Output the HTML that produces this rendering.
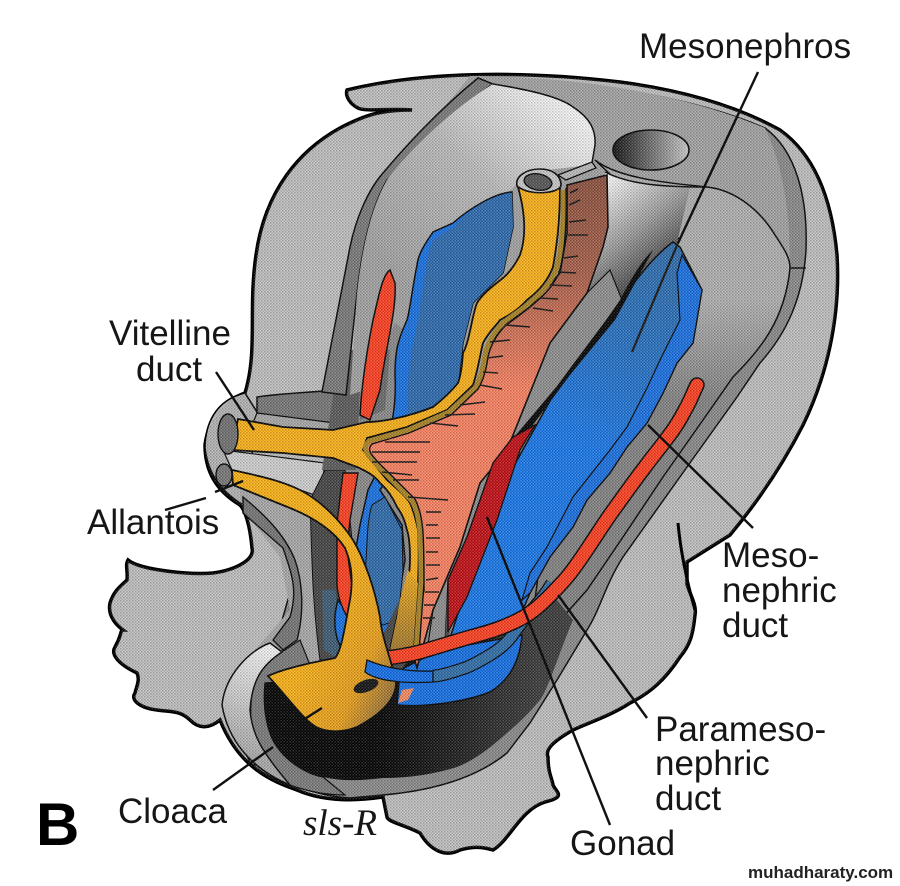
<!DOCTYPE html>
<html><head><meta charset="utf-8"><style>
html,body{margin:0;padding:0;background:#fff;width:900px;height:886px;overflow:hidden}
svg{display:block}
text{font-family:"Liberation Sans",sans-serif;fill:#161616}
</style></head><body>
<svg width="900" height="886" viewBox="0 0 900 886" xmlns="http://www.w3.org/2000/svg">
<defs>
<pattern id="ht" width="3" height="3" patternUnits="userSpaceOnUse">
<rect width="1.5" height="1.5" fill="#000" fill-opacity=".2"/><rect x="1.5" y="1.5" width="1.5" height="1.5" fill="#000" fill-opacity=".12"/><rect x="1.5" width="1.5" height="1.5" fill="#fff" fill-opacity=".2"/><rect y="1.5" width="1.5" height="1.5" fill="#fff" fill-opacity=".12"/>
</pattern>
<linearGradient id="gut" x1="0" y1="175" x2="0" y2="390" gradientUnits="userSpaceOnUse"><stop offset="0" stop-color="#8a4f3c"/><stop offset=".45" stop-color="#a85e48"/><stop offset="1" stop-color="#fb8160"/></linearGradient>
<linearGradient id="hole" x1="0" x2="1" y1="0" y2="0"><stop offset="0" stop-color="#111"/><stop offset=".45" stop-color="#666"/><stop offset="1" stop-color="#cdcdcd"/></linearGradient>
<linearGradient id="fun" x1="610" y1="180" x2="680" y2="270" gradientUnits="userSpaceOnUse"><stop offset="0" stop-color="#f6f6f6"/><stop offset=".5" stop-color="#999"/><stop offset="1" stop-color="#2a2a2a"/></linearGradient>
<linearGradient id="dome" x1="585" y1="125" x2="420" y2="300" gradientUnits="userSpaceOnUse"><stop offset="0" stop-color="#f8f8f8"/><stop offset=".45" stop-color="#bcbcbc"/><stop offset="1" stop-color="#a2a2a2"/></linearGradient>
<linearGradient id="blk" x1="380" y1="0" x2="540" y2="0" gradientUnits="userSpaceOnUse"><stop offset="0" stop-color="#000"/><stop offset="1" stop-color="#3a3a3a"/></linearGradient>
<linearGradient id="ygut" x1="0" y1="560" x2="0" y2="670" gradientUnits="userSpaceOnUse"><stop offset="0" stop-color="#fbb016"/><stop offset="1" stop-color="#8f6c2e"/></linearGradient>
<linearGradient id="clo" x1="300" y1="660" x2="395" y2="705" gradientUnits="userSpaceOnUse"><stop offset="0" stop-color="#fcb213"/><stop offset=".6" stop-color="#ea9f18"/><stop offset="1" stop-color="#8c6a3a"/></linearGradient>
<linearGradient id="bulb" x1="225" y1="745" x2="270" y2="650" gradientUnits="userSpaceOnUse"><stop offset="0" stop-color="#aaa"/><stop offset="1" stop-color="#f4f4f4"/></linearGradient>
<linearGradient id="panel" x1="0" y1="300" x2="0" y2="400" gradientUnits="userSpaceOnUse"><stop offset="0" stop-color="#b0b0b0"/><stop offset="1" stop-color="#828282"/></linearGradient>
<linearGradient id="mblue" x1="670" y1="260" x2="570" y2="440" gradientUnits="userSpaceOnUse"><stop offset="0" stop-color="#2c6cad"/><stop offset=".5" stop-color="#2470c4"/><stop offset="1" stop-color="#1676ea"/></linearGradient>
<clipPath id="bodyclip"><path id="bp" d="M347,90C420,72 520,70 620,82C680,90 735,105 780,130C815,155 832,200 837,255C841,320 825,380 803,425C780,470 755,505 730,535L687,562L687,584C690,595 697,605 695,615C693,635 690,645 680,657C665,680 650,693 630,703C610,716 590,722 573,730C552,742 545,750 548,757C548,773 552,778 553,785C556,792 567,797 545,802C520,810 510,840 493,850C480,846 470,847 460,850C445,858 430,850 420,833C405,825 388,822 387,817L383,797C350,802 320,800 297,790C275,782 240,770 220,720C210,728 200,730 190,720C180,710 170,712 157,710C140,708 130,700 135,693C137,685 140,680 137,673C120,665 110,655 115,647C122,635 120,630 123,630C112,622 108,612 110,603C114,590 122,585 127,580C128,570 125,565 128,560C140,570 190,575 213,573C235,570 255,560 252,548C250,525 245,510 240,505C215,490 205,470 205,445C208,420 225,400 245,393C258,350 248,310 256,255C265,190 300,150 340,128C365,115 380,110 412,110C390,108 365,112 358,108C350,104 345,96 347,90Z"/></clipPath>
</defs>

<!-- body -->
<use href="#bp" fill="#bfbfbf" stroke="#000" stroke-width="3.5"/>

<!-- outer ring band -->
<path d="M765,128C795,150 808,195 806,250C803,300 785,335 760,363L737,397L687,467L623,557C605,585 600,610 587,630L557,680L530,723L507,753C480,775 440,790 383,795L350,798C320,797 280,782 250,763L225,700C232,680 250,655 275,645L345,400L400,200L480,78C600,80 700,100 765,128Z" fill="#8a8a8a" stroke="#000" stroke-width="1.5"/>

<!-- wall -->
<path d="M470,76C570,76 680,92 765,128C780,160 790,200 790,265L720,300L600,400L500,400L350,290L385,180Z" fill="#a3a3a3"/>

<!-- right panel -->
<path d="M595,160C620,180 680,184 707,187C735,190 760,210 775,235C785,250 790,258 790,268C785,320 760,350 733,377L710,410L663,477L623,537L587,590L563,617L530,640L560,400L680,240Z" fill="url(#panel)" stroke="#000" stroke-width="1.5"/>
<path d="M790,268L806,268" stroke="#000" stroke-width="1.5"/>

<!-- cuff and lower-left -->
<path d="M245,393C215,400 205,425 205,448C208,475 222,492 243,505L250,460L262,420Z" fill="#b4b4b4" stroke="#000" stroke-width="1.6"/>
<path d="M257,397C290,392 330,392 350,388L358,393L335,425L257,415Z" fill="#767676" stroke="#000" stroke-width="1.5"/>
<path d="M257,413L335,423L328,442L250,430Z" fill="#a8a8a8" stroke="#000" stroke-width="1.2"/>
<path d="M223,450L325,463L320,497L300,490L232,470Z" fill="#cfcfcf" stroke="#000" stroke-width="1.2"/>
<path d="M240,490L300,500L330,530L335,640L330,660L285,668L265,700L255,650L290,610L280,557L243,510Z" fill="#a9a9a9"/>
<path d="M243,497L243,513L283,548C292,575 298,590 290,617L273,640L283,650L297,640C305,610 302,580 295,560C285,535 265,515 243,497Z" fill="#747474" stroke="#000" stroke-width="1.4"/>
<path d="M310,500C312,560 312,600 320,660L338,660L355,570L345,470L325,470Z" fill="#434343" stroke="#000" stroke-width="1"/>
<path d="M322,590L335,590L343,648L335,657L324,650Z" fill="#3c5a72"/>
<path d="M340,350L362,350L356,470L322,470Z" fill="#5a5a5a"/>
<path d="M365,350L390,350L385,410L360,420Z" fill="#6a6a6a"/>

<!-- left wall band -->
<path d="M478,78L493,84C440,120 400,170 387,180C370,210 362,250 357,293L346,395L322,392L350,247C356,218 368,190 383,173C415,135 445,105 478,78Z" fill="#797979" stroke="#000" stroke-width="1.5"/>

<!-- dome -->
<path d="M493,84C530,90 560,97 573,107C590,118 596,130 595,145C594,155 592,160 590,165L530,172L500,200L460,260L405,300L365,390L350,395L357,293C362,250 370,210 387,180C405,155 450,110 493,84Z" fill="url(#dome)"/>
<path d="M493,84C530,90 560,97 573,107C590,118 596,130 595,145L592,163" fill="none" stroke="#000" stroke-width="1.5"/>
<ellipse cx="651" cy="150" rx="38" ry="20" fill="url(#hole)" stroke="#000" stroke-width="1.6"/>

<!-- funnel -->
<path d="M605,172C630,185 665,187 690,187L677,243L622,300L565,360L587,293L603,247L608,227Z" fill="url(#fun)"/>
<path d="M605,172C630,185 665,187 707,187" fill="none" stroke="#000" stroke-width="1.5"/>

<!-- gray band right of salmon -->
<path d="M587,293L550,343L507,450L480,483L460,547L433,610L425,665L445,645L448,580L467,537L493,463L515,437L557,387L622,300L610,270Z" fill="#8e8e8e" stroke="#000" stroke-width="1.2"/>
<path d="M448,580L445,645L425,668L450,650Z" fill="#444"/>

<!-- dark lower cavity -->
<path d="M265,683C262,710 265,735 277,747C290,765 310,775 323,777C345,782 365,780 383,778C410,778 435,774 457,767C475,760 490,748 507,733C520,722 530,712 540,700C548,690 560,650 573,620L557,600L520,620L430,650L350,660Z" fill="url(#blk)"/>

<!-- crescent and lower-left bands -->
<path d="M252,690C255,670 268,655 285,650L300,640L316,680L265,683C262,710 268,735 277,747C290,765 310,775 323,777L345,795C310,795 275,782 255,767C250,740 250,710 252,690Z" fill="#7a7a7a" stroke="#000" stroke-width="1.2"/>
<path d="M222,705C225,675 250,650 270,643L282,652C262,665 252,680 250,710C252,735 262,752 290,785C250,768 228,740 222,705Z" fill="url(#bulb)" stroke="#000" stroke-width="1.5"/>

<!-- big blue -->
<path d="M673,242C650,258 625,295 613,313C590,345 565,375 556,390L495,500L450,638C480,632 500,625 520,617L530,593L550,557L573,527L587,500L610,473L627,447L647,423L663,393L677,363L693,343L702,290L680,247Z" fill="url(#mblue)" stroke="#000" stroke-width="1.5"/>
<path d="M677,273L680,320L660,360L647,388L627,427L610,450L573,497L547,547L530,573L522,600L530,593L550,557L573,527L587,500L610,473L627,447L647,423L663,393L677,363L693,343L702,290L682,255Z" fill="#176fe4" stroke="#000" stroke-width="1.2"/>
<path d="M632,352L678,243" stroke="#111" stroke-width="2.2"/>

<!-- bottom bright blue -->
<path d="M397,705C430,708 470,700 490,692C510,680 520,660 522,635L440,650L400,670Z" fill="#126ee6" stroke="#000" stroke-width="1.5"/>

<!-- left blue -->
<path d="M512,192C495,193 470,208 453,223L433,232C424,245 418,255 417,265C412,290 410,310 407,320C398,340 395,350 395,375C396,395 395,420 385,445L378,470L368,490L360,525L345,610L338,600C332,620 335,640 343,650L375,662L395,620L405,560L402,525L380,490L425,425L458,385L463,343L473,303L503,273L513,227Z" fill="#1470e4" stroke="#000" stroke-width="1.5"/>
<path d="M512,193C495,194 470,208 455,226L433,240C425,260 423,290 418,320C412,345 408,370 407,400L407,425L440,410L458,385L463,343L473,303L503,273L513,227Z" fill="#2a69ae"/>
<path d="M372,505C366,525 368,545 365,570C362,600 370,620 383,625L398,620L403,570L402,530L385,497Z" fill="#2c6aab" stroke="#000" stroke-width="1"/>

<!-- left red -->
<path d="M390,270C382,275 378,300 373,320C368,345 362,380 360,415L370,420L380,390C385,350 397,310 395,283Z" fill="#ff3d1e" stroke="#000" stroke-width="1.5"/>
<path d="M343,473L358,473L350,520L347,550L354,600L350,622C344,612 338,600 337,585L337,523Z" fill="#ff3d1e" stroke="#000" stroke-width="1.4"/>

<!-- salmon -->
<path d="M567,185L607,175L608,227L603,247L587,293L550,343L507,450L480,483L460,547L433,610L417,668L412,650L424,590L422,530L407,497L377,473L360,453L367,438L407,427L447,410L478,387L488,347L503,325L530,307L560,273L567,233Z" fill="url(#gut)" stroke="#000" stroke-width="1.6"/>

<!-- black wedge and gonad -->
<path d="M653,250C640,262 628,285 620,300C600,330 575,360 557,387L515,437L496,470L492,478L500,482L527,433L570,375L615,320Z" fill="#000"/>
<path d="M535,425L520,450L497,520L467,597L448,632L448,580L467,537L493,463L513,437Z" fill="#c00d12" stroke="#000" stroke-width="1.3"/>

<!-- dark strip between cloaca and hindgut -->
<path d="M407,583L415,650L400,672L385,665L383,635Z" fill="#444"/>

<!-- yellow gut -->
<path d="M518,187C523,205 528,232 520,255C515,265 510,272 503,278C490,288 482,295 477,303C472,315 470,340 463,353C462,365 461,375 458,383C450,393 442,400 433,407C405,418 380,422 367,422L333,430L283,427L238,419L232,450L283,453L333,458L357,467C368,472 375,476 380,483C388,490 393,498 397,507C403,515 405,522 407,530C410,540 410,550 410,557C410,570 409,575 407,583L397,617L390,650L413,650L418,583C419,560 419,545 418,530C416,520 414,512 410,503C405,495 396,488 387,480L363,450L367,438L407,427L447,410L473,385C478,370 480,355 483,343C490,330 497,325 500,320C510,315 520,308 527,300C540,290 548,280 553,267C556,250 560,225 560,187Z" fill="#fbb016" stroke="#000" stroke-width="1.8"/>
<path d="M400,600L397,617L390,650L413,650L418,583L408,570Z" fill="url(#ygut)"/>
<path d="M563,190C564,225 562,250 556,270C548,288 535,298 528,304C515,315 505,320 502,324C492,335 487,345 485,355C483,370 480,378 476,387L449,412L408,430L369,441C362,449 364,453 389,477L412,501C420,515 421,530 421,583L416,650" fill="none" stroke="#a88322" stroke-width="5"/>
<path d="M566,188C567,225 565,252 559,273C551,291 537,301 530,307C518,317 507,324 504,327C495,337 490,347 488,357C486,372 483,381 478,389L451,415L409,433L372,444C367,450 368,453 391,475L415,499C423,515 424,530 424,583L419,652" fill="none" stroke="#000" stroke-width="1.4"/>

<!-- pipe top -->
<path d="M517,186C515,177 525,169 540,169C552,169 561,175 561,185C561,193 530,197 517,186Z" fill="#c8c8c8" stroke="#000" stroke-width="1.6"/>
<ellipse cx="538" cy="182" rx="14" ry="8" fill="#555" stroke="#000" stroke-width="1.4" transform="rotate(10 538 182)"/>
<path d="M558,175L592,162L596,168L566,180Z" fill="#bbb" stroke="#000" stroke-width="1.3"/>

<!-- rugae -->
<g fill="none" stroke="#111" stroke-width="1.6">
<path d="M570,193l8,-4M569,205l11,-5M569,222l17,-2M568,235l20,0M564,258l14,-2M558,272l18,1M550,285l22,1M540,298l18,1M533,308l20,3M505,325l25,2M490,342l20,-2M487,358l16,-2M483,372l15,1M480,385l22,4"/>
<path d="M460,405l25,-3M445,415l30,-1M430,423l28,3M385,442l45,0M372,452l48,0M372,462l45,0M382,472l30,3M393,480l26,0M408,497l40,3M426,512l15,0M426,525l12,0M426,538l14,0M426,552l12,0M426,565l14,0M426,580l12,-2M425,592l14,0M424,605l12,0M423,618l12,0"/>
</g>

<!-- teal duct under red -->
<path d="M552,583C545,595 538,603 530,612C522,622 517,628 512,636C505,645 498,650 490,655C480,661 473,665 465,668C450,673 440,676 433,676" fill="none" stroke="#000" stroke-width="13"/>
<path d="M552,583C545,595 538,603 530,612C522,622 517,628 512,636C505,645 498,650 490,655C480,661 473,665 465,668C450,673 440,676 433,676" fill="none" stroke="#2e6da8" stroke-width="10.5"/>

<!-- red duct, right -->
<path d="M697,385C692,395 690,402 685,410C680,420 675,428 668,437C660,448 653,456 645,467C635,480 625,494 615,508C606,520 598,533 590,545C580,560 570,575 560,585C550,596 540,606 530,613C520,620 510,624 500,628C487,633 473,636 460,640C447,644 433,648 420,652C408,655 396,657 385,658" fill="none" stroke="#000" stroke-width="15.5" stroke-linecap="round"/>
<path d="M697,385C692,395 690,402 685,410C680,420 675,428 668,437C660,448 653,456 645,467C635,480 625,494 615,508C606,520 598,533 590,545C580,560 570,575 560,585C550,596 540,606 530,613C520,620 510,624 500,628C487,633 473,636 460,640C447,644 433,648 420,652C408,655 396,657 385,658" fill="none" stroke="#ff3d1e" stroke-width="12.5" stroke-linecap="round"/>

<!-- allantois & cloaca -->
<path d="M232,470C255,475 280,480 300,490C320,500 340,520 353,540C365,560 375,590 380,617C382,640 392,660 396,683C396,700 380,715 357,727C345,732 330,733 318,728C305,722 290,700 268,676C285,668 315,662 335,658C342,650 345,625 350,600C354,575 350,560 345,548C335,532 315,518 290,508L233,485Z" fill="url(#clo)" stroke="#000" stroke-width="1.8"/>
<path d="M367,660L365,672C375,680 400,684 433,682L433,671C410,672 385,668 367,660Z" fill="#106de8" stroke="#000" stroke-width="1.3"/>
<ellipse cx="366" cy="686" rx="13" ry="6" fill="#111" transform="rotate(-20 366 686)"/>
<path d="M402,690L414,688L408,700L398,703Z" fill="#f58a5f"/>
<ellipse cx="228" cy="434" rx="10" ry="20" fill="#707070" stroke="#000" stroke-width="1.4"/>
<ellipse cx="224" cy="475" rx="8" ry="11" fill="#777" stroke="#000" stroke-width="1.4"/>

<rect x="0" y="0" width="900" height="886" fill="url(#ht)" clip-path="url(#bodyclip)"/>

<!-- leader lines -->
<g stroke="#111" stroke-width="2.4" fill="none">
<path d="M758,72L678,243"/>
<path d="M216,372L254,430"/>
<path d="M165,510L206,498M215,492L243,481"/>
<path d="M213,790L273,747M303,720L322,708"/>
<path d="M487,517L610,825"/>
<path d="M558,595L647,718"/>
<path d="M648,425L753,528"/>
</g>
<path d="M678,523C680,545 685,575 695,610" fill="none" stroke="#000" stroke-width="3"/>

<!-- labels -->
<g font-size="35">
<text x="639" y="58">Mesonephros</text>
<text x="109" y="345">Vitelline</text>
<text x="136" y="381">duct</text>
<text x="87" y="534">Allantois</text>
<text x="722" y="567">Meso-</text>
<text x="722" y="602">nephric</text>
<text x="722" y="637">duct</text>
<text x="655" y="741">Parameso-</text>
<text x="655" y="775">nephric</text>
<text x="655" y="810">duct</text>
<text x="570" y="855">Gonad</text>
<text x="118" y="823">Cloaca</text>
</g>
<text x="36" y="845" font-size="60" font-weight="700" style="fill:#000">B</text>
<text x="303" y="835" font-size="37" font-style="italic" style="font-family:'Liberation Serif',serif">sls-R</text>
<text x="748" y="878" font-size="17" font-weight="700" style="fill:#222">muhadharaty.com</text>
</svg>
</body></html>
